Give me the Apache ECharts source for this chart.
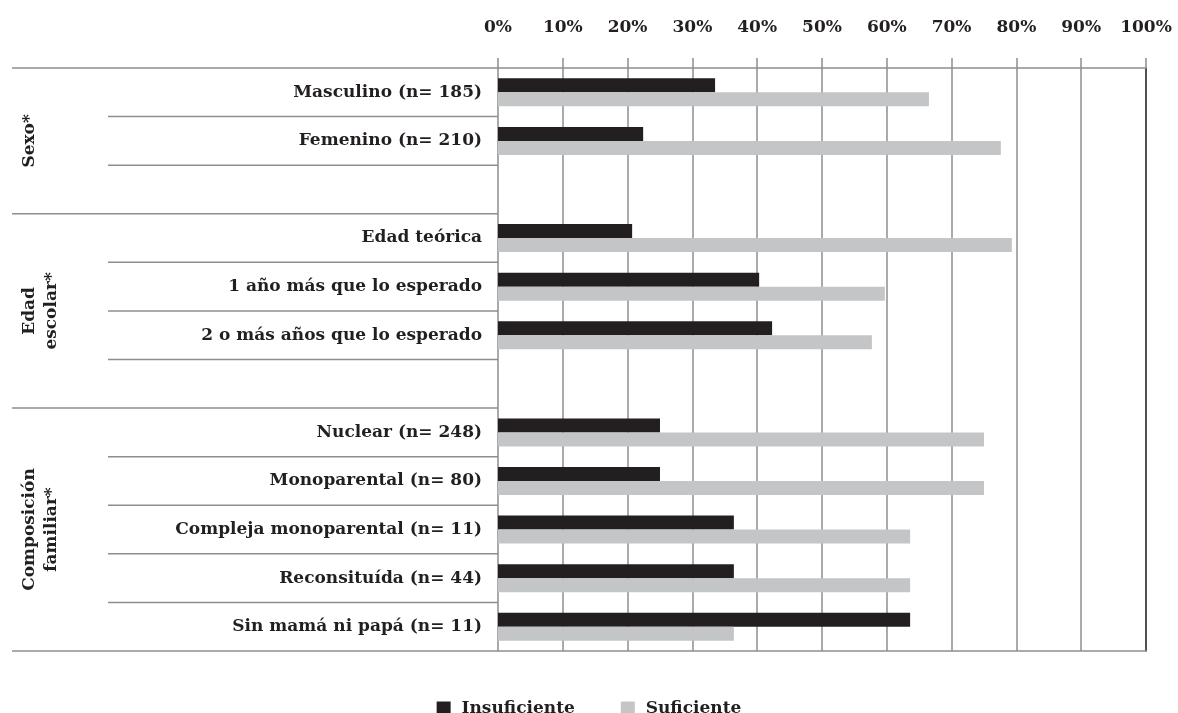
<!DOCTYPE html>
<html>
<head>
<meta charset="utf-8">
<script src="https://cdn.jsdelivr.net/npm/echarts@6/dist/echarts.min.js"></script>
<style>
  html, body { margin: 0; padding: 0; background: #fff; }
  #chart { width: 1178px; height: 713px; }
</style>
</head>
<body>
<div id="chart"></div>
<script>
  var categories = [
    'Masculino (n= 185)', 'Femenino (n= 210)', ' ',
    'Edad teórica', '1 año más que lo esperado', '2 o más años que lo esperado', '  ',
    'Nuclear (n= 248)', 'Monoparental (n= 80)', 'Compleja monoparental (n= 11)',
    'Reconsituída (n= 44)', 'Sin mamá ni papá (n= 11)'
  ]
  var insuficiente = [33.5, 22.4, null, 20.7, 40.3, 42.3, null, 25.0, 25.0, 36.4, 36.4, 63.6]
  var suficiente = [66.5, 77.6, null, 79.3, 59.7, 57.7, null, 75.0, 75.0, 63.6, 63.6, 36.4]
  // groups: label, first index, last index
  var groups = [
    ['Sexo*', 0, 2],
    ['Edad\nescolar*', 3, 6],
    ['Composición\nfamiliar*', 7, 11]
  ]
  var xTicks = [0, 10, 20, 30, 40, 50, 60, 70, 80, 90, 100]

  var FONT = 'DejaVu Serif'
  var INK = '#231f20'
  var LINE = '#8e8e8e'

  var myChart = echarts.init(document.getElementById('chart'))

  var option = {
    animation: false,
    textStyle: { fontFamily: FONT },
    grid: { left: 498, right: 32, top: 68, bottom: 62 },
    legend: {
      data: ['Insuficiente', 'Suficiente'],
      top: 695,
      left: 'center',
      icon: 'rect',
      itemWidth: 14,
      itemHeight: 14,
      itemGap: 46,
      formatter: function (name) { return ' ' + name },
      textStyle: { fontFamily: FONT, fontWeight: 'bold', fontSize: 17, color: INK }
    },
    xAxis: [
      {
        type: 'value',
        position: 'top',
        min: xTicks[0],
        max: xTicks[xTicks.length - 1],
        interval: 10,
        axisLine: { show: true, lineStyle: { color: LINE, width: 1.5 } },
        axisTick: { show: true, length: 10, lineStyle: { color: LINE, width: 1.5 } },
        splitLine: { show: true, lineStyle: { color: LINE, width: 1.5 } },
        axisLabel: {
          margin: 32,
          formatter: '{value}%',
          fontFamily: FONT,
          fontWeight: 'bold',
          fontSize: 17,
          color: INK
        }
      },
      {
        type: 'value',
        position: 'bottom',
        min: 0,
        max: 100,
        axisLine: { show: true, lineStyle: { color: LINE, width: 1.5 } },
        axisTick: { show: false },
        splitLine: { show: false },
        axisLabel: { show: false }
      }
    ],
    yAxis: [
      {
        type: 'category',
        inverse: true,
        data: categories,
        axisLine: { show: false },
        axisTick: { show: false },
        axisLabel: {
          margin: 16,
          fontFamily: FONT,
          fontWeight: 'bold',
          fontSize: 17,
          color: INK
        }
      },
      {
        type: 'category',
        inverse: true,
        position: 'right',
        data: categories,
        axisLine: { show: true, onZero: false, lineStyle: { color: '#333', width: 1.5 } },
        axisTick: { show: false },
        axisLabel: { show: false }
      }
    ],
    series: [
      {
        name: 'Insuficiente',
        type: 'bar',
        xAxisIndex: 0,
        yAxisIndex: 0,
        barWidth: 14,
        barGap: '0%',
        itemStyle: { color: INK },
        data: insuficiente
      },
      {
        name: 'Suficiente',
        type: 'bar',
        xAxisIndex: 0,
        yAxisIndex: 0,
        barWidth: 14,
        barGap: '0%',
        itemStyle: { color: '#c4c5c7' },
        data: suficiente
      }
    ]
  }
  myChart.setOption(option)

  // row separators and group labels, placed through the category axis
  var c0 = myChart.convertToPixel({ yAxisIndex: 0 }, 0)
  var c1 = myChart.convertToPixel({ yAxisIndex: 0 }, 1)
  var band = c1 - c0
  var gridLeft = 498
  var graphics = []
  var groupStarts = groups.map(function (g) { return g[1] })
  for (var k = 0; k <= categories.length; k++) {
    var y = c0 + band * (k - 0.5)
    var isGroup = groupStarts.indexOf(k) >= 0 || k === categories.length
    graphics.push({
      type: 'line',
      shape: { x1: isGroup ? 12 : 108, y1: y, x2: gridLeft, y2: y },
      style: { stroke: LINE, lineWidth: 1.5 },
      silent: true
    })
  }
  groups.forEach(function (g) {
    var yc = (myChart.convertToPixel({ yAxisIndex: 0 }, g[1]) + myChart.convertToPixel({ yAxisIndex: 0 }, g[2])) / 2
    var twoLines = g[0].indexOf('\n') >= 0
    graphics.push({
      type: 'text',
      x: twoLines ? 41 : 30,
      y: yc,
      rotation: Math.PI / 2,
      style: {
        text: g[0],
        fontFamily: FONT,
        fontWeight: 'bold',
        fontSize: 17,
        lineHeight: 22,
        fill: INK,
        align: 'center',
        verticalAlign: 'middle'
      },
      silent: true
    })
  })
  myChart.setOption({ graphic: graphics })
</script>
</body>
</html>
